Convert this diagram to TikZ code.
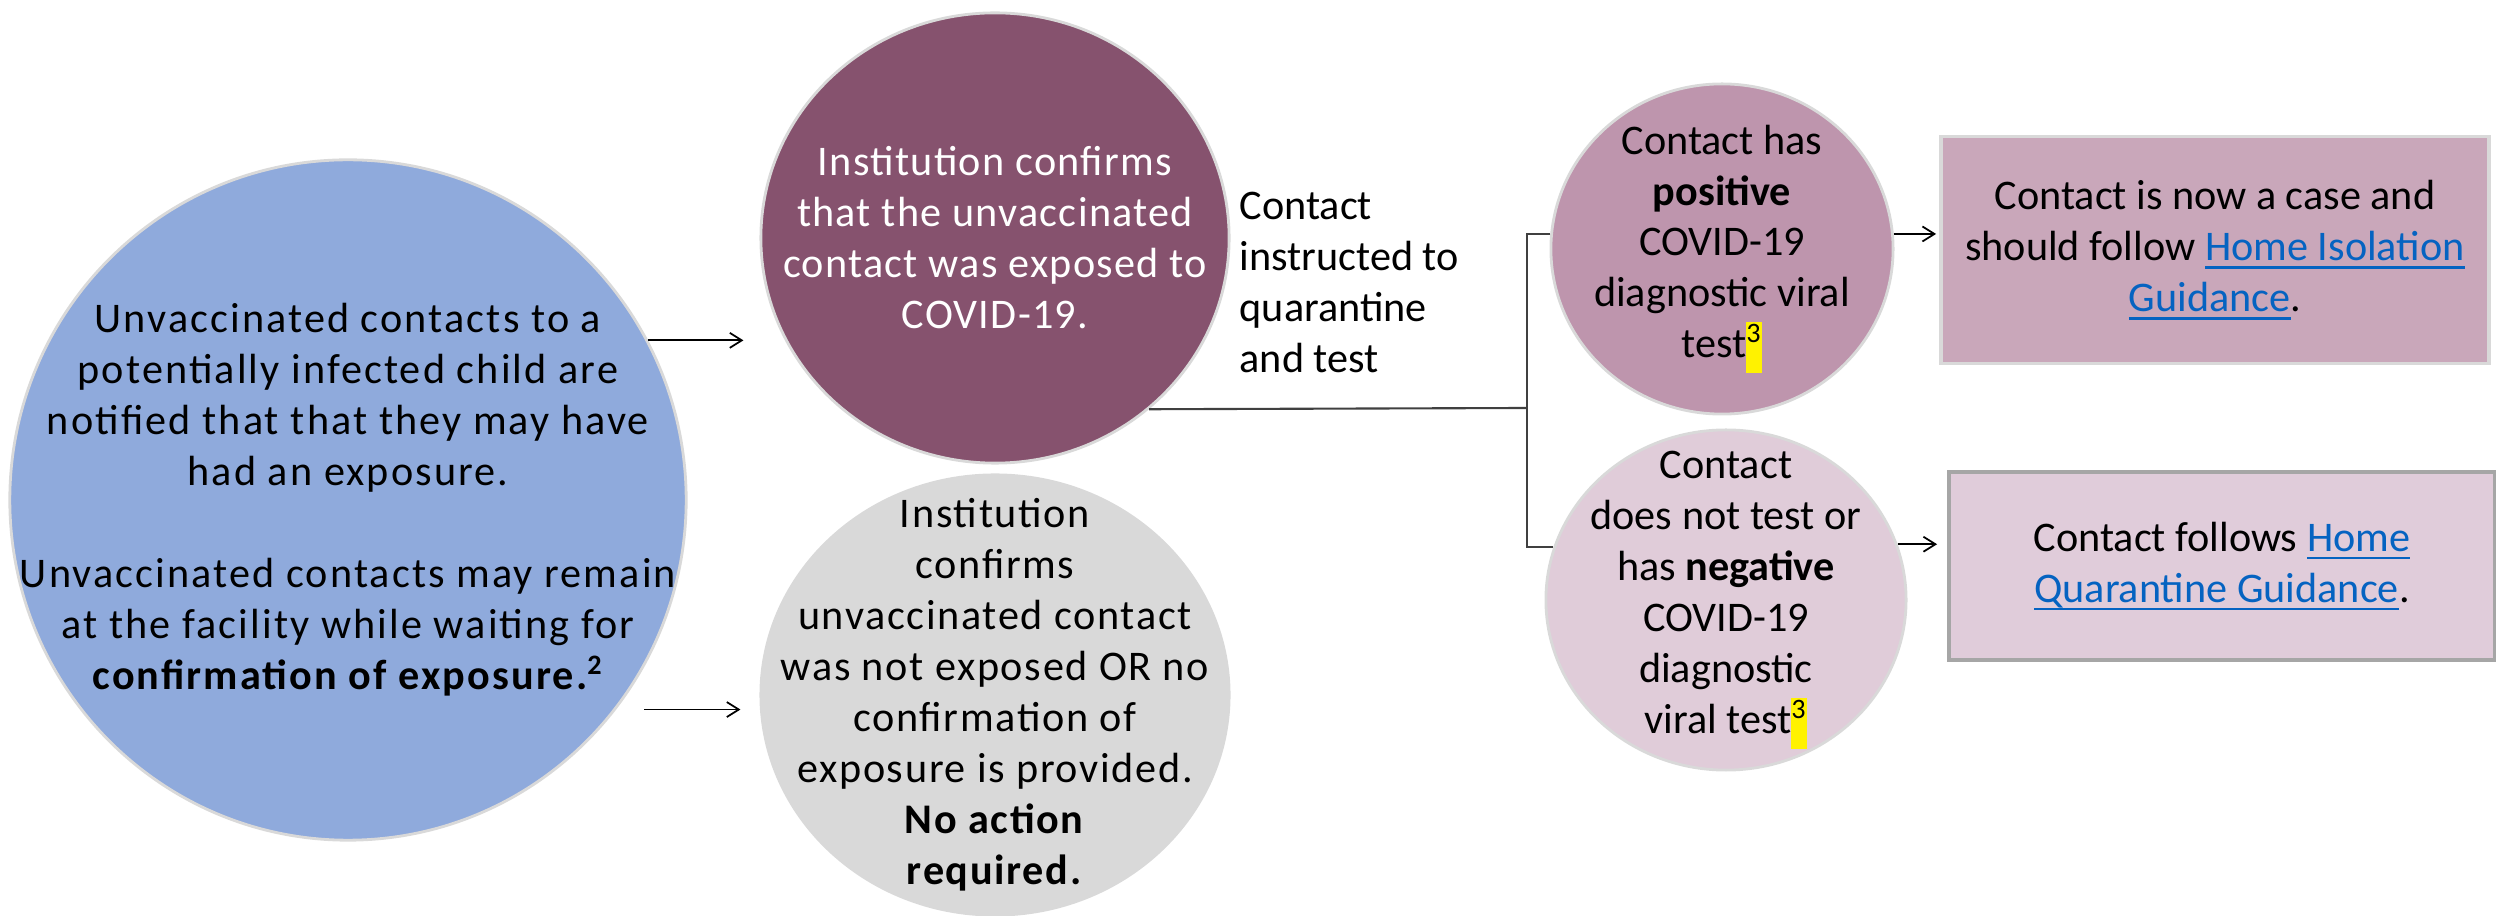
\documentclass[tikz,border=0pt]{standalone}
\usepackage{fontspec}
\setmainfont{Carlito}
\usetikzlibrary{arrows.meta,shapes.geometric}
\definecolor{notifyblue}{HTML}{8FAADC}
\definecolor{expoplum}{HTML}{86526E}
\definecolor{cleargray}{HTML}{D9D9D9}
\definecolor{posmauve}{HTML}{BE95AD}
\definecolor{negpink}{HTML}{E0CCD9}
\definecolor{casefill}{HTML}{C9A7BA}
\definecolor{quarfill}{HTML}{E0CCDA}
\definecolor{linkblue}{HTML}{0563C1}
\newcommand{\lnk}[1]{\textcolor{linkblue}{\setbox0\hbox{#1}\rlap{\rule[-2.2pt]{\wd0}{0.6pt}}\box0}}
\newcommand{\hl}[1]{{\setlength{\fboxsep}{0pt}\colorbox{yellow}{\strut\textsuperscript{#1}}}}

\begin{document}
\begin{tikzpicture}[x=0.01cm,y=-0.01cm, % pixel grid, y down
    blob/.style={ellipse,draw=black!15,line width=0.8pt,inner sep=0pt},
    txt/.style={align=center,inner sep=0pt,font=\fontsize{12}{14.5}\selectfont},
    wide/.style={font=\fontsize{12}{14.5}\selectfont\addfontfeatures{LetterSpace=#1}},
    box/.style={rectangle,line width=1pt,inner sep=0pt},
    arr/.style={-{Straight Barb[length=0.12cm,width=0.15cm]},line width=0.5pt},
    link/.style={draw=black!75,line width=0.6pt}]
  \useasboundingbox (0,0) rectangle (2496,916);

  \node[blob,fill=notifyblue,minimum width=6.76cm,minimum height=6.8cm] (notify) at (348,500) {};
  \node[blob,fill=expoplum,minimum width=4.68cm,minimum height=4.5cm] (expo) at (995,238) {};
  \node[blob,fill=cleargray,minimum width=4.68cm,minimum height=4.4cm] (clear) at (995,695) {};
  \node[blob,fill=posmauve,minimum width=3.42cm,minimum height=3.3cm] (pos) at (1722,249) {};
  \node[blob,fill=negpink,minimum width=3.6cm,minimum height=3.4cm] (neg) at (1726,600) {};
  \node[box,draw=black!15,fill=casefill,minimum width=5.48cm,minimum height=2.27cm] (case) at (2215,250) {};
  \node[box,draw=black!35,fill=quarfill,minimum width=5.46cm,minimum height=1.88cm] (quar) at (2222,566) {};

  \node[txt,wide=5] (notify-t) at (notify) {Unvaccinated contacts to a\\ potentially infected child are\\
    notified that that they may have\\ had an exposure.\\[14.5pt]
    Unvaccinated contacts may remain\\ at the facility while waiting for\\
    \textbf{confirmation of exposure.\textsuperscript{2}}};
  \node[txt,wide=3,text=white] (expo-t) at (expo) {Institution confirms\\ that the unvaccinated\\
    contact was exposed to\\ COVID-19.};
  \node[txt,wide=4] (clear-t) at (clear) {Institution\\ confirms\\ unvaccinated contact\\
    was not exposed OR no\\ confirmation of\\ exposure is provided.\\
    \textbf{No action}\\ \textbf{required.}};
  \node[txt,align=left,anchor=west] (instr) at (1239,282) {Contact\\ instructed to\\ quarantine\\ and test};
  \node[txt] (pos-t) at (pos) {Contact has\\ \textbf{positive}\\ COVID-19\\ diagnostic viral\\ test\hl{3}};
  \node[txt] (neg-t) at (neg) {Contact\\ does not test or\\ has \textbf{negative}\\ COVID-19\\
    diagnostic\\ viral test\hl{3}};
  \node[txt] (case-t) at (case) {Contact is now a case and\\ should follow \lnk{Home Isolation}\\ \lnk{Guidance}.};
  \node[txt] (quar-t) at (quar) {Contact follows \lnk{Home}\\ \lnk{Quarantine Guidance}.};

  \draw[arr,shorten >=0.16cm] (notify.28) -- (notify.28 -| expo.west);
  \draw[arr,shorten <=0.28cm,shorten >=0.19cm] (notify.-38) -- (notify.-38 -| clear.west);

  \coordinate (fork) at (1527,408);
  \draw[link] (expo.-48) -- (fork);
  \draw[link] (pos.175) -- (pos.175 -| fork) -- (neg.163 -| fork) -- (neg.163);

  \draw[arr,shorten >=0.03cm] (pos.5) -- (pos.5 -| case.west);
  \draw[arr,shorten >=0.1cm] (neg.18) -- (neg.18 -| quar.west);
\end{tikzpicture}
\end{document}
